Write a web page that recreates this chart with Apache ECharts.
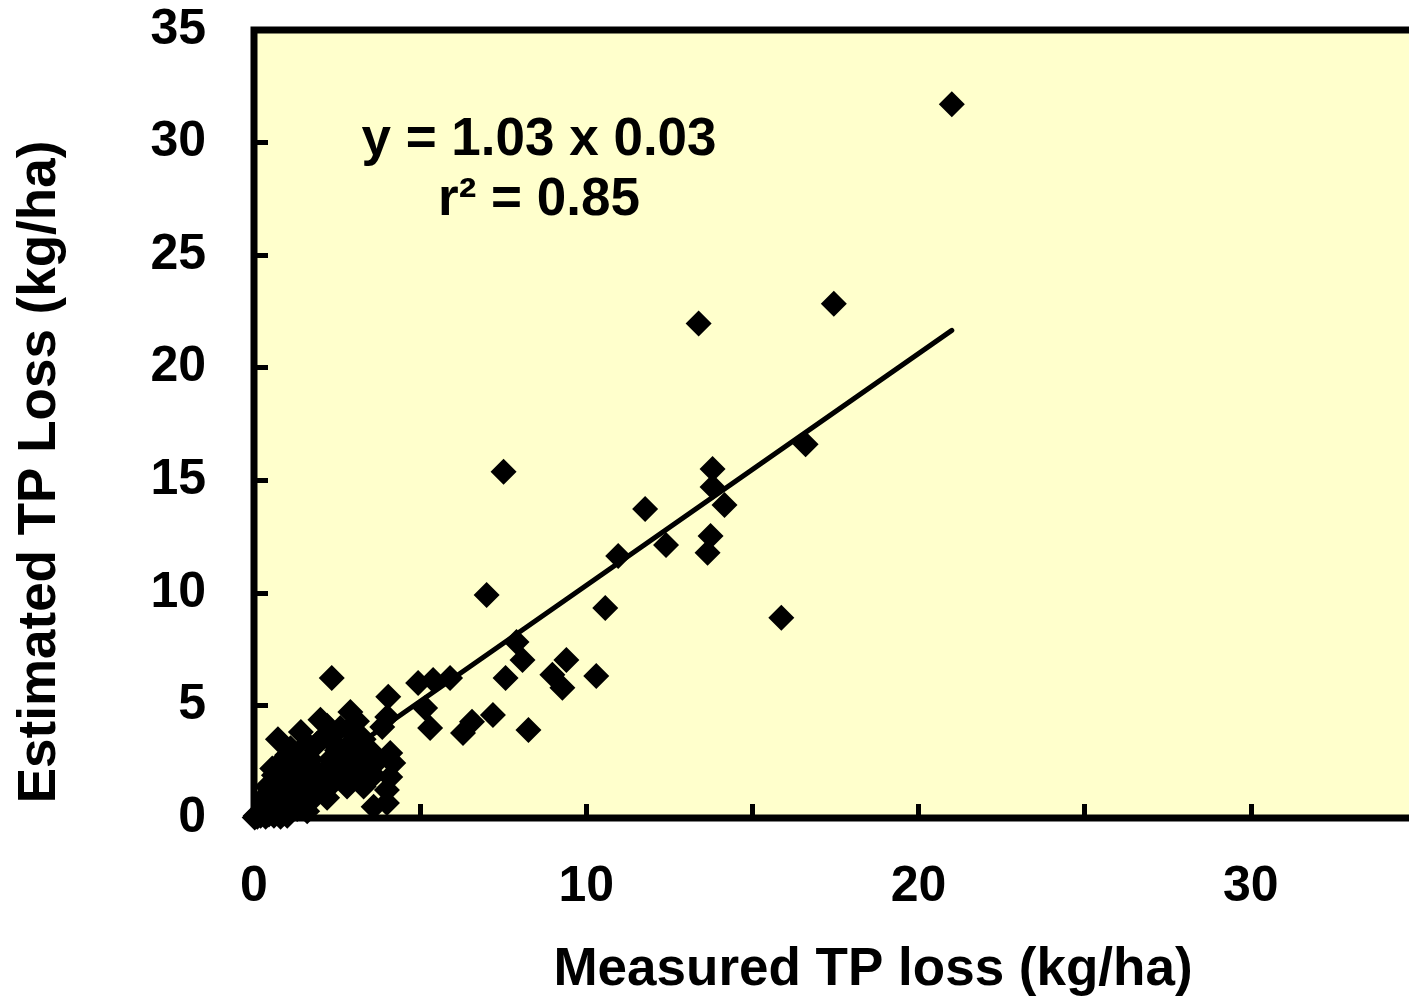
<!DOCTYPE html>
<html>
<head>
<meta charset="utf-8">
<script src="https://cdn.jsdelivr.net/npm/echarts@6/dist/echarts.min.js"></script>
<style>html,body{margin:0;padding:0;background:#fff;}#c{width:1409px;height:998px;}</style>
</head>
<body>
<div id="c"></div>
<script>
var xTitle = 'Measured TP loss (kg/ha)';
var yTitle = 'Estimated TP Loss (kg/ha)';
var eqLine1 = 'y = 1.03 x 0.03';
var eqLine2 = 'r\u00B2 = 0.85';

// measured TP loss (x) and estimated TP loss (y)
var measured = [
  0.02,0.05,0.1,0.15,0.2,0.3,0.35,0.45,0.5,0.6,0.7,0.8,0.9,1.0,0.4,0.3,0.6,0.5,0.7,0.4,
  0.6,0.8,0.9,0.55,0.75,0.72,1.0,1.1,1.2,1.3,1.2,1.0,1.1,1.41,1.3,1.5,1.6,1.5,1.4,1.7,
  1.8,1.7,1.9,2.0,2.1,2.0,2.2,2.1,2.3,2.34,2.4,2.5,2.6,2.6,2.8,2.7,2.9,2.9,3.0,3.1,
  3.2,3.1,3.3,3.3,3.4,3.5,3.6,3.6,3.7,3.86,4.0,4.0,4.1,4.19,4.1,4.01,4.04,3.0,2.4,1.8,
  1.2,0.9,2.2,1.6,
  4.94,5.39,5.9,5.15,5.3,6.29,6.56,7.19,7.57,7.9,8.08,8.26,8.98,9.28,9.4,10.3,
  7.0,7.51,10.57,10.96,11.77,12.4,13.65,13.74,13.8,13.8,14.16,15.87,16.6,13.38,17.45,21.0
];
var estimated = [
  0.02,0.1,0.05,0.2,0.1,0.3,0.05,0.15,0.4,0.1,0.3,0.05,0.2,0.1,0.6,0.9,0.8,1.2,1.5,1.4,
  1.9,1.1,1.7,2.2,2.4,3.5,2.0,1.3,0.7,0.4,2.5,2.8,3.1,3.82,1.8,1.1,0.3,2.2,2.9,1.6,
  0.9,2.6,3.3,4.36,2.0,1.3,0.9,3.6,2.6,6.22,1.6,3.0,2.1,4.0,1.4,2.6,4.71,3.3,2.0,2.8,
  1.6,4.3,1.4,3.5,2.4,3.0,0.5,1.9,2.5,4.04,0.67,1.24,1.82,2.44,2.89,4.49,5.38,3.7,3.3,2.2,
  1.5,0.7,4.1,3.3,
  6.0,6.13,6.22,4.89,4.0,3.78,4.27,4.58,6.22,7.82,7.02,3.91,6.36,5.78,7.02,6.31,
  9.91,15.38,9.33,11.64,13.73,12.13,11.78,12.53,15.5,14.7,13.9,8.89,16.6,21.96,22.84,31.7
];
// regression line endpoints (y = 1.03x + 0.03)
var trendX = [0.0, 21.0];
var trendY = [0.03, 21.66];

var xTicks = [0, 10, 20, 30];
var yTicks = [0, 5, 10, 15, 20, 25, 30, 35];

var pts = measured.map(function (v, i) { return [v, estimated[i]]; });
var trend = trendX.map(function (v, i) { return [v, trendY[i]]; });

var FONT = '"Liberation Sans", Arial, sans-serif';
var chart = echarts.init(document.getElementById('c'), null, {renderer: 'canvas'});
chart.setOption({
  animation: false,
  backgroundColor: '#ffffff',
  grid: {
    left: 254, top: 30, width: 1163, height: 788,
    outerBoundsMode: 'none', containLabel: false,
    show: true, backgroundColor: '#FFFFCC', borderColor: '#000', borderWidth: 7
  },
  xAxis: {
    type: 'value', min: 0, max: 35, interval: 5,
    axisLine: {show: false},
    axisTick: {show: true, inside: true, length: 14, lineStyle: {color: '#000', width: 5}},
    splitLine: {show: false},
    axisLabel: {
      margin: 44, fontSize: 50, fontWeight: 'bold', color: '#000', fontFamily: FONT,
      formatter: function (v) { return xTicks.indexOf(v) >= 0 ? String(v) : ''; }
    }
  },
  yAxis: {
    type: 'value', min: 0, max: 35, interval: 5,
    axisLine: {show: false},
    axisTick: {show: true, inside: true, length: 14, lineStyle: {color: '#000', width: 5}},
    splitLine: {show: false},
    axisLabel: {
      margin: 48, fontSize: 50, fontWeight: 'bold', color: '#000', fontFamily: FONT,
      formatter: function (v) { return yTicks.indexOf(v) >= 0 ? String(v) : ''; }
    }
  },
  graphic: [
    {type: 'text', x: 873, y: 970, style: {text: xTitle, font: 'bold 53px ' + FONT, fill: '#000', textAlign: 'center', textVerticalAlign: 'middle'}},
    {type: 'text', x: 40, y: 472, rotation: Math.PI / 2, style: {text: yTitle, font: 'bold 53px ' + FONT, fill: '#000', textAlign: 'center', textVerticalAlign: 'middle'}},
    {type: 'text', x: 539, y: 140, style: {text: eqLine1, font: 'bold 53px ' + FONT, fill: '#000', textAlign: 'center', textVerticalAlign: 'middle'}},
    {type: 'text', x: 539, y: 200, style: {text: eqLine2, font: 'bold 53px ' + FONT, fill: '#000', textAlign: 'center', textVerticalAlign: 'middle'}}
  ],
  series: [
    {
      type: 'line', data: trend, symbol: 'none', z: 3,
      lineStyle: {color: '#000', width: 5, cap: 'round'}
    },
    {
      type: 'scatter', data: pts, symbol: 'diamond', symbolSize: 26, clip: false, z: 4,
      itemStyle: {color: '#000', opacity: 1}
    }
  ]
});
</script>
</body>
</html>
